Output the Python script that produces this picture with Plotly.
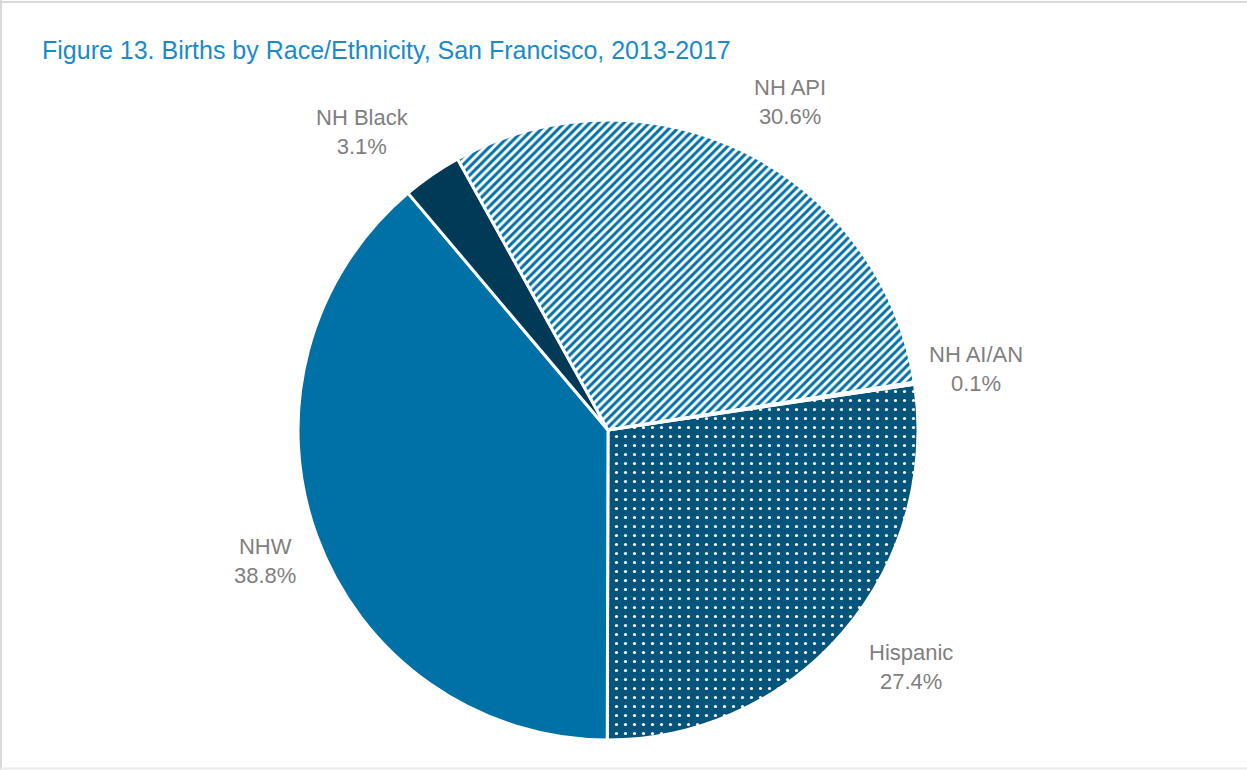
import plotly.graph_objects as go

# Data (in drawing order, clockwise)
categories = ["Hispanic", "NHW", "NH Black", "NH API", "NH AI/AN"]
values = [27.4, 38.8, 3.1, 30.6, 0.1]
value_labels = ["27.4%", "38.8%", "3.1%", "30.6%", "0.1%"]

colors = ["#04547C", "#0071A7", "#003A57", "#0071A7", "#5B9BD5"]
shapes_pat = [".", "", "", "/", ""]
bgcolors = ["#04547C", "#0071A7", "#003A57", "#FFFFFF", "#5B9BD5"]
fgcolors = ["#FFFFFF", "#0071A7", "#003A57", "#0071A7", "#5B9BD5"]
solid = [0.1, 0.5, 0.5, 0.5, 0.5]

W, H = 1247, 770
cx, cy, r = 608, 430, 310

fig = go.Figure(go.Pie(
    labels=categories,
    values=values,
    sort=False,
    direction="clockwise",
    rotation=81.5,
    textinfo="none",
    hoverinfo="label+percent",
    showlegend=False,
    marker=dict(
        colors=colors,
        line=dict(color="#FFFFFF", width=3),
        pattern=dict(shape=shapes_pat, bgcolor=bgcolors, fgcolor=fgcolors,
                     size=[9, 8, 8, 6, 8], solidity=solid, fillmode="replace"),
    ),
    domain=dict(x=[(cx - r) / W, (cx + r) / W], y=[1 - (cy + r) / H, 1 - (cy - r) / H]),
))

font_family = "Liberation Sans, Arial, sans-serif"

label_pos = {
    "NH API": (790, 102),
    "NH Black": (362, 132),
    "NH AI/AN": (976, 369),
    "Hispanic": (911, 667),
    "NHW": (265, 561),
}
annotations = []
for cat, vl in zip(categories, value_labels):
    x, y = label_pos[cat]
    annotations.append(dict(
        x=x / W, y=1 - y / H, xref="paper", yref="paper",
        text=f"{cat}<br>{vl}", showarrow=False, align="center",
        xanchor="center", yanchor="middle",
        font=dict(family=font_family, size=22, color="#7F7F7F"),
    ))

annotations.append(dict(
    x=40 / W, y=1 - 50 / H, xref="paper", yref="paper",
    text="Figure 13. Births by Race/Ethnicity, San Francisco, 2013-2017",
    showarrow=False, xanchor="left", yanchor="middle",
    font=dict(family=font_family, size=25, color="#1B8AC9"),
))

border = dict(xref="paper", yref="paper", type="line", line=dict(color="#D9D9D9", width=2))
fig.update_layout(
    width=W, height=H,
    margin=dict(l=0, r=0, t=0, b=0),
    paper_bgcolor="white", plot_bgcolor="white",
    annotations=annotations,
    shapes=[
        dict(border, x0=0, x1=1, y0=1 - 2 / H, y1=1 - 2 / H),
        dict(border, x0=1 / W, x1=1 / W, y0=0, y1=1),
        dict(border, x0=0, x1=1, y0=1.5 / H, y1=1.5 / H, line=dict(color="#EBEBEB", width=2)),
    ],
)

fig.write_html("out.html", config={"displayModeBar": False},
               post_script="document.body.style.margin='0';")
